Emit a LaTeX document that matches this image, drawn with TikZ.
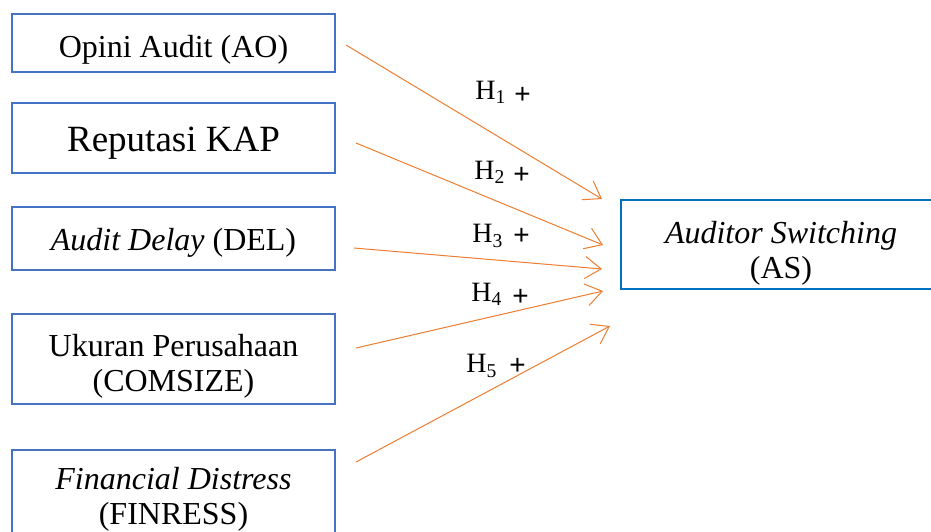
\documentclass[tikz,border=0pt]{standalone}
\usepackage{fontspec}
\setmainfont{Liberation Serif}
\newfontfamily\plusfont{Liberation Sans}
\usepackage{tikz}
\usetikzlibrary{positioning,arrows.meta,calc}

\definecolor{boxblue}{HTML}{4472C4}
\definecolor{asblue}{HTML}{0070C0}
\definecolor{arrorange}{HTML}{ED7D31}

\begin{document}
\begin{tikzpicture}[x=0.5pt,y=-0.5pt,
    varbox/.style={draw=boxblue, line width=1pt, minimum width=161.5pt, inner sep=0pt},
    vartext/.style={inner sep=0pt, align=center, font=\fontsize{16}{17.5}\selectfont},
    hyp/.style={-{Straight Barb[length=8pt,width=11pt]}, arrorange, line width=0.5pt},
    hlabel/.style={font=\fontsize{14}{16}\selectfont, inner sep=0pt}]
    \useasboundingbox (0,0) rectangle (931,531);
    \clip (0,0) rectangle (931,531);

    % variables
    \node[varbox, minimum height=29pt, label={[vartext, yshift=-3.5pt]center:Opini Audit (AO)}] (ao) at (173.5,43) {};
    \node[varbox, minimum height=35pt, label={[vartext, yshift=-2.5pt, font=\fontsize{18.5}{20}\selectfont]center:Reputasi KAP}] (kap) at (173.5,138) {};
    \node[varbox, minimum height=31.5pt, label={[vartext, yshift=-2pt]center:\textit{Audit Delay} (DEL)}] (del) at (173.5,238.5) {};
    \node[varbox, minimum height=45pt, label={[vartext, yshift=-3.5pt]center:Ukuran Perusahaan\\(COMSIZE)}] (size) at (173.5,359) {};
    \node[varbox, minimum height=45pt, label={[vartext, yshift=-2pt]center:\textit{Financial Distress}\\(FINRESS)}] (fin) at (173.5,495) {};
    \node[varbox, draw=asblue, minimum width=160pt, minimum height=44.5pt, label={[vartext, yshift=-4.5pt]center:\textit{Auditor Switching}\\(AS)}] (as) at (781,244.5) {};

    % arrow ends
    \coordinate (in1) at ($(as.north west)+(-18,0)$);
    \coordinate (in2) at ($(as.west)+(-17,0.5)$);
    \coordinate (in3) at ($(as.west)+(-18,24.5)$);
    \coordinate (in4) at ($(as.south west)+(-17,1)$);
    \coordinate (in5) at ($(as.south west)+(-10,36)$);

    \draw[hyp] ($(ao.east)+(10,2)$) -- (in1);
    \draw[hyp] ($(kap.east)+(20,5)$) -- (in2);
    \draw[hyp] ($(del.east)+(18,9.5)$) -- (in3);
    \draw[hyp] ($(size.east)+(20,-11)$) -- (in4);
    \draw[hyp] ($(fin.east)+(20,-33)$) -- (in5);

    % hypotheses
    \node[hlabel] (h1) at (503,92) {H\textsubscript{1}\hspace{4pt}\raisebox{-2pt}{\plusfont +}};
    \node[hlabel] (h2) at (502,172) {H\textsubscript{2}\hspace{4pt}\raisebox{-2pt}{\plusfont +}};
    \node[hlabel] (h3) at (501,236) {H\textsubscript{3}\hspace{5pt}\raisebox{-1pt}{\plusfont +}};
    \node[hlabel] (h4) at (500,294) {H\textsubscript{4}\hspace{5pt}\raisebox{-2pt}{\plusfont +}};
    \node[hlabel] (h5) at (496,366) {H\textsubscript{5}\hspace{6pt}\raisebox{-1pt}{\plusfont +}};
\end{tikzpicture}
\end{document}
